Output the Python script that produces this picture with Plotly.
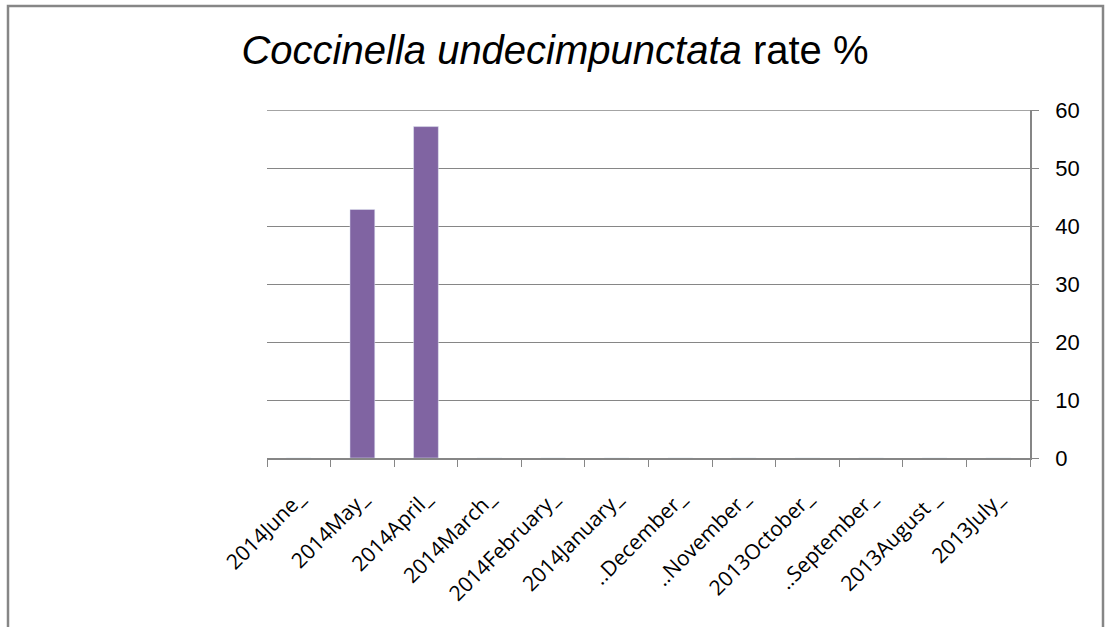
import plotly.graph_objects as go

categories = ["2014June_", "2014May_", "2014April_", "2014March_", "2014February_",
              "2014January_", "..December_", "..November_", "2013October_",
              "..September_", "2013August _", "2013July_"]
values = [0, 42.86, 57.14, 0, 0, 0, 0, 0, 0, 0, 0, 0]
y_ticks = [0, 10, 20, 30, 40, 50, 60]

W, H = 1105, 627
L, R, T, B = 267, 1030, 110, 458

def px_x(p):
    return (p - L) / (R - L)

def px_y(p):
    return (B - p) / (B - T)

fig = go.Figure(go.Bar(x=categories, y=values, marker_color="#8064A2", width=0.39))

fig.update_layout(
    width=W, height=H,
    margin=dict(l=L, r=W - R, t=T, b=H - B),
    paper_bgcolor="white", plot_bgcolor="white",
    showlegend=False,
    title=dict(text="<i>Coccinella undecimpunctata</i> rate %",
               font=dict(family="Liberation Sans", size=40, color="black"),
               x=555 / W, xanchor="center", y=1 - 50 / H, yanchor="middle"),
    xaxis=dict(tickangle=-45, tickson="boundaries", ticks="outside", ticklen=7,
               tickcolor="#868686", showline=True, linecolor="#868686", linewidth=1.5,
               tickfont=dict(family="Open Sans", size=21, color="black"),
               ticklabelstandoff=18, showgrid=False),
    yaxis=dict(side="right", range=[0, 60], tickvals=y_ticks, ticks="outside", ticklen=7,
               tickcolor="#868686", showline=True, linecolor="#868686", linewidth=1.5,
               gridcolor="#868686", gridwidth=1, zeroline=False,
               ticklabelstandoff=12,
               tickfont=dict(family="Liberation Sans", size=22, color="black")),
    shapes=[dict(type="rect", xref="paper", yref="paper",
                 x0=px_x(8), x1=px_x(1103), y0=px_y(640), y1=px_y(6),
                 line=dict(color="#868686", width=2.5), fillcolor="rgba(0,0,0,0)", layer="below"),
            dict(type="line", xref="paper", yref="y", x0=0, x1=1,
                 y0=y_ticks[-1], y1=y_ticks[-1],
                 line=dict(color="#868686", width=1.5), layer="below")],
)

fig.write_html("out.html")
